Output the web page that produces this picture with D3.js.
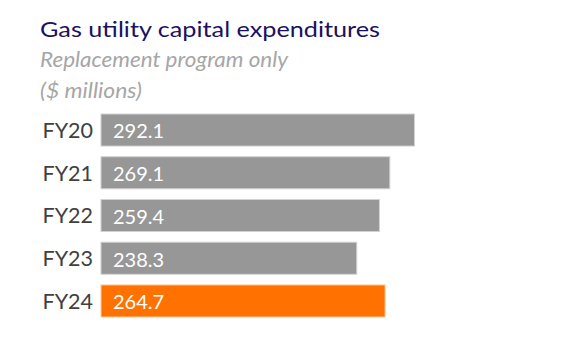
<!DOCTYPE html>
<html><head><meta charset="utf-8">
<script src="https://cdn.jsdelivr.net/npm/d3@7"></script>
<style>body{margin:0;background:#fff}svg{display:block}</style>
</head><body>
<svg id="c" width="575" height="340"></svg>
<script>
const categories = ["FY20","FY21","FY22","FY23","FY24"];
const values = [292.1, 269.1, 259.4, 238.3, 264.7];
const highlight = ["FY24"];
const title = "Gas utility capital expenditures";
const subtitle1 = "Replacement program only";
const subtitle2 = "($ millions)";

const svg = d3.select("#c");
const font = "Lato, 'Open Sans', sans-serif";
const x = d3.scaleLinear().domain([0, 292.1]).range([101, 414.5]);
const y = d3.scaleBand().domain(categories).range([114, 317]).paddingInner(0.25).paddingOuter(0);

// stretch text horizontally to match the reference's wide rendering
function stretch(sel, w) {
  sel.each(function() {
    const n = this.getComputedTextLength();
    if (w) d3.select(this).attr("textLength", w).attr("lengthAdjust", "spacingAndGlyphs");
  });
}

svg.append("text").attr("x", 40).attr("y", 37).attr("font-family", font).attr("font-size", 21)
  .attr("fill", "#1c1060").text(title).call(stretch, 340);
svg.append("text").attr("x", 40).attr("y", 66.5).attr("font-family", font).attr("font-size", 20.5)
  .attr("font-style", "italic").attr("fill", "#a6a6a6").text(subtitle1).call(stretch, 248);
svg.append("text").attr("x", 40).attr("y", 97.5).attr("font-family", font).attr("font-size", 20.5)
  .attr("font-style", "italic").attr("fill", "#a6a6a6").text(subtitle2).call(stretch, 102);

const g = svg.append("g");
g.selectAll("rect").data(categories).join("rect")
  .attr("x", x(0)).attr("y", d => y(d))
  .attr("width", (d,i) => x(values[i]) - x(0)).attr("height", y.bandwidth())
  .attr("fill", d => highlight.includes(d) ? "#ff7100" : "#979797")
  .attr("stroke", d => highlight.includes(d) ? "#ffc9a0" : "#d2d2d2").attr("stroke-width", 1);

g.selectAll("text.cat").data(categories).join("text").attr("class","cat")
  .attr("x", 93).attr("y", d => y(d) + y.bandwidth()/2).attr("dy", "0.36em")
  .attr("text-anchor", "end").attr("font-family", font).attr("font-size", 21.5)
  .attr("fill", "#404040").text(d => d);

g.selectAll("text.val").data(categories).join("text").attr("class","val")
  .attr("x", x(0) + 12).attr("y", d => y(d) + y.bandwidth()/2).attr("dy", "0.42em")
  .attr("font-family", font).attr("font-size", 20)
  .attr("fill", "#ffffff").text((d,i) => values[i].toFixed(1));
</script>
</body></html>
